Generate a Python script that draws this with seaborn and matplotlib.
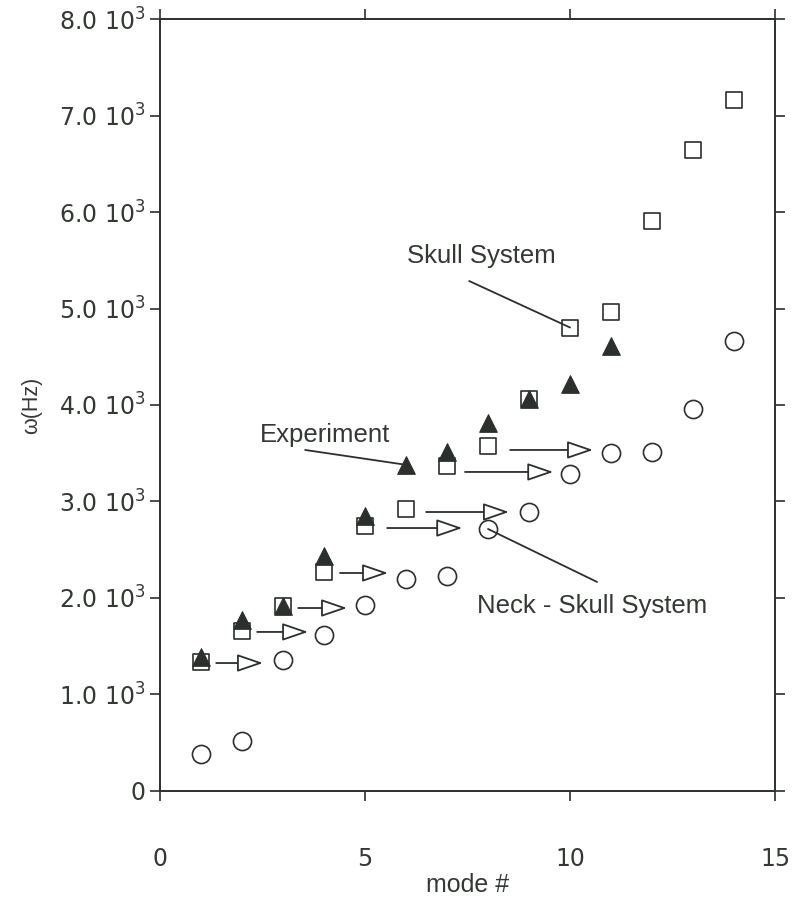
import matplotlib
matplotlib.use("Agg")
import matplotlib.pyplot as plt
import seaborn as sns
import pandas as pd

# ---- data ----
modes = list(range(1, 15))
neck_skull = [383, 518, 1356, 1615, 1925, 2195, 2230, 2715, 2890, 3285, 3505, 3510, 3955, 4665]
skull = [1335, 1656, 1912, 2267, 2745, 2919, 3370, 3571, 4058, 4803, 4959, 5905, 6646, 7164]
exp_modes = list(range(1, 12))
experiment = [1392, 1772, 1912, 2435, 2847, 3380, 3515, 3810, 4058, 4218, 4612]

arrow_x0 = [1.37, 2.37, 3.37, 4.39, 5.54, 6.49, 7.44, 8.54]
arrow_x1 = [2.51, 3.61, 4.56, 5.56, 7.37, 8.51, 9.59, 10.56]
arrow_y = [1326, 1648, 1896, 2259, 2725, 2891, 3306, 3534]

x_ticks = [0, 5, 10, 15]
y_ticks = [0, 1000, 2000, 3000, 4000, 5000, 6000, 7000, 8000]
y_ticklabels = ["0"] + [f"{v/1000:.1f} 10$^3$" for v in y_ticks[1:]]

dark = "#2b302c"
txt = "#343934"

sns.set_style("ticks")
plt.rcParams["font.family"] = ["DejaVu Sans"]
plt.rcParams["mathtext.fontset"] = "dejavusans"

fig = plt.figure(figsize=(7.97, 8.98), dpi=100)
ax = fig.add_axes([0.2008, 0.1192, 0.9724 - 0.2008, 0.9788 - 0.1192])

df_sk = pd.DataFrame({"mode": modes, "w": skull})
df_nk = pd.DataFrame({"mode": modes, "w": neck_skull})
df_ex = pd.DataFrame({"mode": exp_modes, "w": experiment})

sns.scatterplot(data=df_nk, x="mode", y="w", ax=ax, marker="o", s=170,
                color=dark, facecolor="white", edgecolor=dark, linewidth=1.2, zorder=2)
sns.scatterplot(data=df_sk, x="mode", y="w", ax=ax, marker="s", s=145,
                color=dark, facecolor="white", edgecolor=dark, linewidth=1.2, zorder=2)
sns.scatterplot(data=df_ex, x="mode", y="w", ax=ax, marker="^", s=160,
                color=dark, facecolor=dark, edgecolor=dark, linewidth=0.8, zorder=2.5)

# hollow-head arrows
for x0, x1, y in zip(arrow_x0, arrow_x1, arrow_y):
    ax.annotate("", xy=(x1, y), xytext=(x0, y),
                arrowprops=dict(arrowstyle="-|>,head_length=16,head_width=5.5",
                                mutation_scale=1, fc="white", ec=dark, lw=1.3,
                                shrinkA=0, shrinkB=0), zorder=3)

# labels with leader lines
tfont = dict(family=["Liberation Sans", "DejaVu Sans"], size=18.5, color=txt)
ax.text(6.02, 5470, "Skull System", ha="left", va="baseline", **tfont)
ax.text(2.44, 3617, "Experiment", ha="left", va="baseline", **tfont)
ax.text(7.73, 1845, "Neck - Skull System", ha="left", va="baseline", **tfont)

lp = dict(arrowstyle="-", color=dark, lw=1.3, shrinkA=0, shrinkB=0)
ax.annotate("", xy=(modes[9], skull[9]), xytext=(7.54, 5285), arrowprops=lp, zorder=3)
ax.annotate("", xy=(exp_modes[5], experiment[5]), xytext=(3.54, 3534), arrowprops=lp, zorder=3)
ax.annotate("", xy=(10.66, 2166), xytext=(modes[7], neck_skull[7]), arrowprops=lp, zorder=3)

ax.set_xlim(0, 15)
ax.set_ylim(0, 8000)
ax.set_xticks(x_ticks)
ax.set_xticklabels([str(v) for v in x_ticks])
ax.set_yticks(y_ticks)
ax.set_yticklabels(y_ticklabels)

for sp in ax.spines.values():
    sp.set_visible(True)
    sp.set_color(dark)
    sp.set_linewidth(1.4)

ax.tick_params(axis="both", which="both", direction="out", length=7.5, width=1.2,
               color=dark, top=True, right=True, labelcolor=txt)
ax.tick_params(axis="x", labelsize=17, pad=33)
ax.tick_params(axis="y", labelsize=17, pad=3)

ax.set_xlabel("mode #", fontsize=18, color=txt, labelpad=1,
              family=["Liberation Sans", "DejaVu Sans"])
ax.set_ylabel("ω(Hz)", fontsize=15.5, color=txt, labelpad=12,
              family=["Liberation Sans", "DejaVu Sans"])

fig.savefig("out.png", dpi=100)
